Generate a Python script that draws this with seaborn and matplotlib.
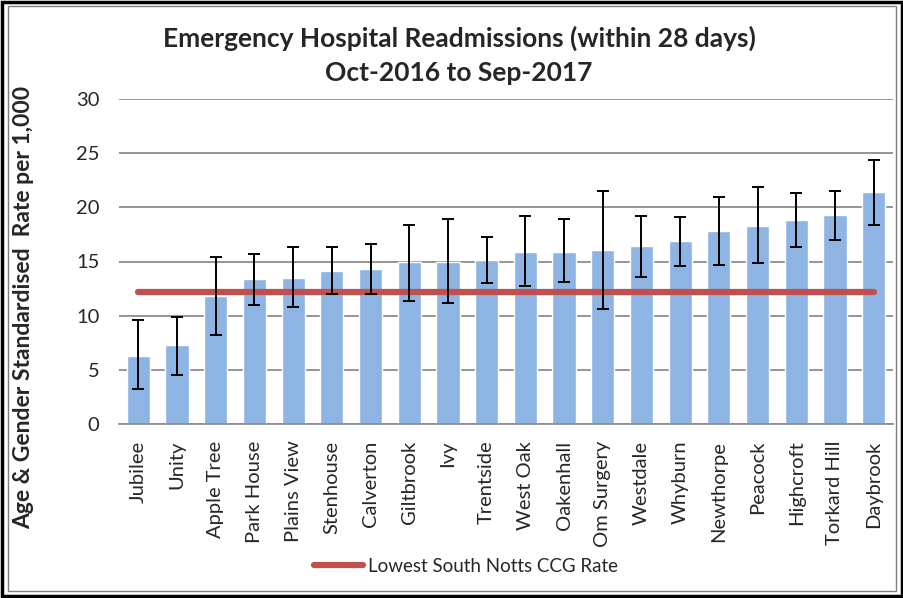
import numpy as np
import pandas as pd
import matplotlib
matplotlib.use("Agg")
import matplotlib.pyplot as plt
from matplotlib.patches import Rectangle
import seaborn as sns

practices = ["Jubilee", "Unity", "Apple Tree", "Park House", "Plains View", "Stenhouse",
             "Calverton", "Giltbrook", "Ivy", "Trentside", "West Oak", "Oakenhall",
             "Om Surgery", "Westdale", "Whyburn", "Newthorpe", "Peacock", "Highcroft",
             "Torkard Hill", "Daybrook"]
rates = [6.3, 7.3, 11.8, 13.4, 13.5, 14.1, 14.3, 15.0, 15.0, 15.1,
         15.9, 15.9, 16.1, 16.4, 16.9, 17.8, 18.3, 18.8, 19.3, 21.4]
ci_low = [3.2, 4.5, 8.2, 11.0, 10.8, 12.0, 12.0, 11.4, 11.2, 13.0,
          12.7, 13.1, 10.6, 13.6, 14.6, 14.7, 14.9, 16.3, 17.0, 18.4]
ci_high = [9.6, 9.9, 15.4, 15.7, 16.3, 16.3, 16.6, 18.4, 18.9, 17.3,
           19.2, 18.9, 21.5, 19.2, 19.1, 21.0, 21.9, 21.3, 21.5, 24.4]
lowest_ccg_rate = 12.2

df = pd.DataFrame({"practice": practices, "rate": rates})

sns.set_style("white")
plt.rcParams["font.family"] = ["Lato", "DejaVu Sans"]

fig = plt.figure(figsize=(9.04, 5.98), dpi=100)
ax = fig.add_axes([119 / 904, 1 - 424 / 598, 774 / 904, 325 / 598])

sns.barplot(data=df, x="practice", y="rate", order=practices, color="#8EB4E3",
            saturation=1, width=0.6, ax=ax, zorder=2)

x = np.arange(len(practices))
vals = np.array(rates)
yerr = [vals - np.array(ci_low), np.array(ci_high) - vals]
ax.errorbar(x, vals, yerr=yerr, fmt="none", ecolor="black", elinewidth=1.4,
            capsize=4.5, capthick=1.4, zorder=4)

line, = ax.plot(x, [lowest_ccg_rate] * len(x), color="#C0504D", lw=4.5,
                solid_capstyle="round", zorder=3, label="Lowest South Notts CCG Rate")

ax.set_ylim(0, 30)
ax.set_yticks(range(0, 31, 5))
ax.set_xlim(-0.5, len(practices) - 0.5)
ax.yaxis.grid(True, color="#8c8c8c", lw=1.3, zorder=0)
ax.set_axisbelow(True)
for s in ["top", "right", "left"]:
    ax.spines[s].set_visible(False)
ax.spines["bottom"].set_color("#8c8c8c")
ax.spines["bottom"].set_linewidth(1.3)
ax.tick_params(axis="both", length=0, labelsize=14.5)
ax.tick_params(axis="y", pad=14)
ax.tick_params(axis="x", pad=12)
plt.setp(ax.get_xticklabels(), rotation=90)
ax.set_xlabel("")
ax.set_ylabel("Age & Gender Standardised  Rate per 1,000", fontsize=16.5,
              fontweight="bold")
ax.yaxis.set_label_coords(-0.11, 0.358)

fig.text(459 / 904, 1 - 38 / 598, "Emergency Hospital Readmissions (within 28 days)",
         ha="center", va="center", fontsize=19, fontweight="bold")
fig.text(459 / 904, 1 - 73 / 598, "Oct-2016 to Sep-2017",
         ha="center", va="center", fontsize=19, fontweight="bold")

fig.legend(handles=[line], loc="center", bbox_to_anchor=(466 / 904, 1 - 566 / 598),
           frameon=False, fontsize=13.5, handlelength=2.6, handletextpad=0.3)

# double frame around the chart area
fig.patches.append(Rectangle((0.002, 0.003), 0.996, 0.994, transform=fig.transFigure,
                             fill=False, edgecolor="black", lw=2.5))
fig.patches.append(Rectangle((0.009, 0.012), 0.982, 0.978, transform=fig.transFigure,
                             fill=False, edgecolor="#7f7f7f", lw=1))

fig.savefig("out.png", dpi=100)
